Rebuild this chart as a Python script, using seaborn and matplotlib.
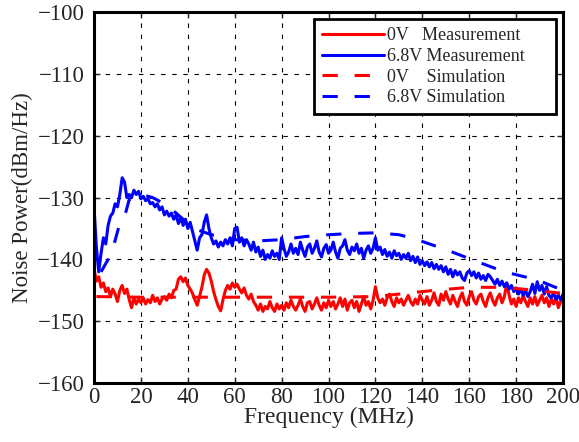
import numpy as np
import pandas as pd
import matplotlib
matplotlib.use('Agg')
import matplotlib.pyplot as plt
import seaborn as sns

# measured noise power, 1 MHz step, 0..200 MHz
freq_meas = list(range(0, 201))

meas_68v = [
    -131.5, -138, -142, -139, -136.5, -137.5, -134.5, -133, -132.5, -131,
    -131.5, -129.5, -126.8, -127.5, -130, -129.5, -130, -128.8, -129.5, -129,
    -130.2, -129.8, -130.5, -130.2, -131, -130.8, -131.5, -131, -132, -131.5,
    -132.8, -132.2, -133, -132.5, -133.5, -132.8, -134.2, -133.2, -134.5, -133.5,
    -135, -134, -135.5, -137, -138.5, -136.5, -136, -134, -132.8, -135,
    -136.5, -137.5, -137, -138, -137.2, -137.8, -136.8, -137.5, -136.5, -137.8,
    -135, -134.8, -137.2, -136.5, -137.8, -136.8, -137.5, -138.5, -137.2, -138.8,
    -138, -139.5, -138.5, -140, -139.2, -139.8, -138.6, -139.5, -139, -140,
    -136.5, -138.2, -139.5, -138.8, -137.5, -139, -138.2, -139.2, -137.2, -138.5,
    -139.5, -138, -137.5, -139, -138.2, -137, -138.8, -139.6, -138.2, -137.6,
    -139, -138.5, -137.2, -138.8, -139.8, -138.2, -137.8, -136.8, -138.5, -139.2,
    -138, -138.6, -137.5, -139, -138.2, -139.8, -138.5, -137.8, -139, -138.2,
    -136.5, -138.5, -138, -139.2, -138.4, -139.5, -138.8, -139.8, -138.6, -139.4,
    -139, -140, -139.2, -139.8, -139, -140.2, -139.5, -140.5, -139.6, -140.8,
    -140.2, -141, -140.4, -141.2, -140.5, -141.5, -140.8, -141.6, -141, -142,
    -141.2, -142.4, -141.6, -142.8, -141.8, -142.5, -142, -143, -143.4, -142.2,
    -141.8, -142.6, -142, -143, -142.2, -143.2, -142.6, -143.4, -142.4, -142.8,
    -143.4, -144, -143.2, -144.2, -143.5, -144.4, -143.8, -144.8, -144.2, -145.2,
    -144.6, -145.6, -144.8, -145.8, -145, -146, -145.2, -144, -145.5, -143.6,
    -145, -144.2, -145.6, -144.4, -145.8, -146.2, -145.4, -146.4, -145.8, -146.5,
    -145.6,
]

meas_0v = [
    -141.5, -143.5, -142.8, -144.5, -143.8, -145.2, -144.6, -146, -144.8, -145.6,
    -146.8, -145, -144.2, -145.5, -144.8, -146.5, -147.8, -146.2, -147.2, -146.4,
    -147, -146.2, -147.2, -146.5, -147, -145.8, -146.8, -146.2, -147.2, -146.4,
    -146, -146.6, -145.6, -146.2, -145, -144.8, -143.2, -142.8, -143.6, -143,
    -144.2, -144.8, -145.5, -146.5, -147.4, -146, -144.5, -142.5, -141.6, -142.2,
    -143.5, -145.2, -146.5, -147.6, -148.3, -146.5, -145, -144.2, -144.8, -143.8,
    -144.5, -144, -144.8, -145.4, -144.6, -145.8, -146.4, -145.6, -146.8, -147.4,
    -148.2, -147.2, -148.4, -147.6, -148, -146.8, -147.8, -148.4, -147.2, -148,
    -147.4, -148.2, -147, -147.8, -146.6, -147.6, -148.2, -147.4, -146.4, -147.6,
    -148.4, -147, -146.8, -148, -147.2, -146.2, -147.4, -148.2, -147, -147.8,
    -146.6, -147.6, -146.8, -148, -147.2, -146.2, -147.6, -146.4, -148.2, -147,
    -146.6, -147.8, -146.8, -148.4, -147.2, -146, -147.4, -146.8, -148, -146.6,
    -144.4, -146.2, -147, -146.4, -147.4, -146.2, -145.6, -146.8, -147.6, -146.2,
    -147, -146.4, -147.4, -146.6, -145.8, -146.8, -147.4, -146.4, -147.2, -145.8,
    -146.6, -147.2, -146, -147.4, -146.6, -145.4, -146.8, -147.4, -145.6, -146.6,
    -145.2, -146.4, -147.2, -145.8, -146.8, -147.6, -146.2, -145.4, -146.8, -147.4,
    -146, -145.2, -146.6, -147.2, -146, -145.6, -146.8, -147.6, -146.2, -145.4,
    -146.6, -147.4, -146.2, -145.6, -147, -146, -143.8, -145.8, -147.2, -146.4,
    -147.6, -146.2, -147, -145.8, -146.8, -147.6, -146.2, -147.2, -146, -147.4,
    -146.6, -145.8, -147, -146.2, -147.6, -146.4, -147.2, -146, -147.8, -146.8,
    -146.2,
]

# simulated curves (smooth)
freq_sim_68v = [3, 6, 8.5, 10.6, 13.6, 15, 20, 25, 30, 35, 40, 44, 50, 60, 70, 80,
                90, 100, 110, 120, 130, 137, 150, 163, 175, 189, 200]
sim_68v = [-142, -140, -137.6, -134.7, -132.3, -130.3, -129.5, -130, -131, -132.5,
           -134.2, -135.2, -136, -136.8, -137, -136.8, -136.3, -136, -135.8, -135.7,
           -136, -136.7, -138.4, -140.3, -142, -143.3, -145]

freq_sim_0v = [1, 20, 40, 60, 80, 100, 120, 130, 145, 160, 175, 188, 200]
sim_0v = [-146, -146.1, -146.1, -146.1, -146.1, -146.1, -146, -145.6, -145,
          -144.5, -144.5, -145, -145.5]

labels = ['0V   Measurement', '6.8V Measurement     ',
          '0V    Simulation', '6.8V Simulation']

sns.set_style('ticks')
plt.rcParams['font.family'] = ['Liberation Serif', 'DejaVu Serif']

fig = plt.figure(figsize=(5.79, 4.42), dpi=100)
ax = fig.add_axes([0.1624, 0.133, 0.8100, 0.840])

lw = 2.2
dash = (0, (5, 5.5))
sns.lineplot(x=freq_meas, y=meas_0v, color='#ff0000', lw=lw, ax=ax,
             label=labels[0])
sns.lineplot(x=freq_meas, y=meas_68v, color='#0000ff', lw=lw, ax=ax,
             label=labels[1])
sns.lineplot(x=freq_sim_0v, y=sim_0v, color='#ff0000', lw=lw, ax=ax,
             linestyle=dash, label=labels[2])
sns.lineplot(x=freq_sim_68v, y=sim_68v, color='#0000ff', lw=lw, ax=ax,
             linestyle=dash, label=labels[3])

ax.set_xlim(0, 200)
ax.set_ylim(-160, -100)
ax.set_xticks(np.arange(0, 201, 20))
ax.set_yticks(np.arange(-160, -99, 10))
ax.grid(True, color='black', linestyle=(0, (4, 6)), linewidth=0.8)
ax.tick_params(direction='in', top=True, right=True, length=4, width=1,
               labelsize=16.5)
ax.tick_params(axis='x', pad=3)
ax.tick_params(axis='y', pad=7)
for s in ax.spines.values():
    s.set_linewidth(2.2)
    s.set_color('black')

ax.set_xlabel('Frequency (MHz)', fontsize=17, labelpad=-1)
ax.set_ylabel('Noise Power(dBm/Hz)', fontsize=16.5, labelpad=3)

leg = ax.legend(loc='upper right', fontsize=13, frameon=True, fancybox=False,
                borderpad=0.45, labelspacing=0.2, handlelength=3.4,
                handletextpad=0.2, borderaxespad=0.4)
leg.get_frame().set_edgecolor('black')
leg.get_frame().set_linewidth(2)
leg.get_frame().set_alpha(1)

fig.savefig('out.png', dpi=100)
